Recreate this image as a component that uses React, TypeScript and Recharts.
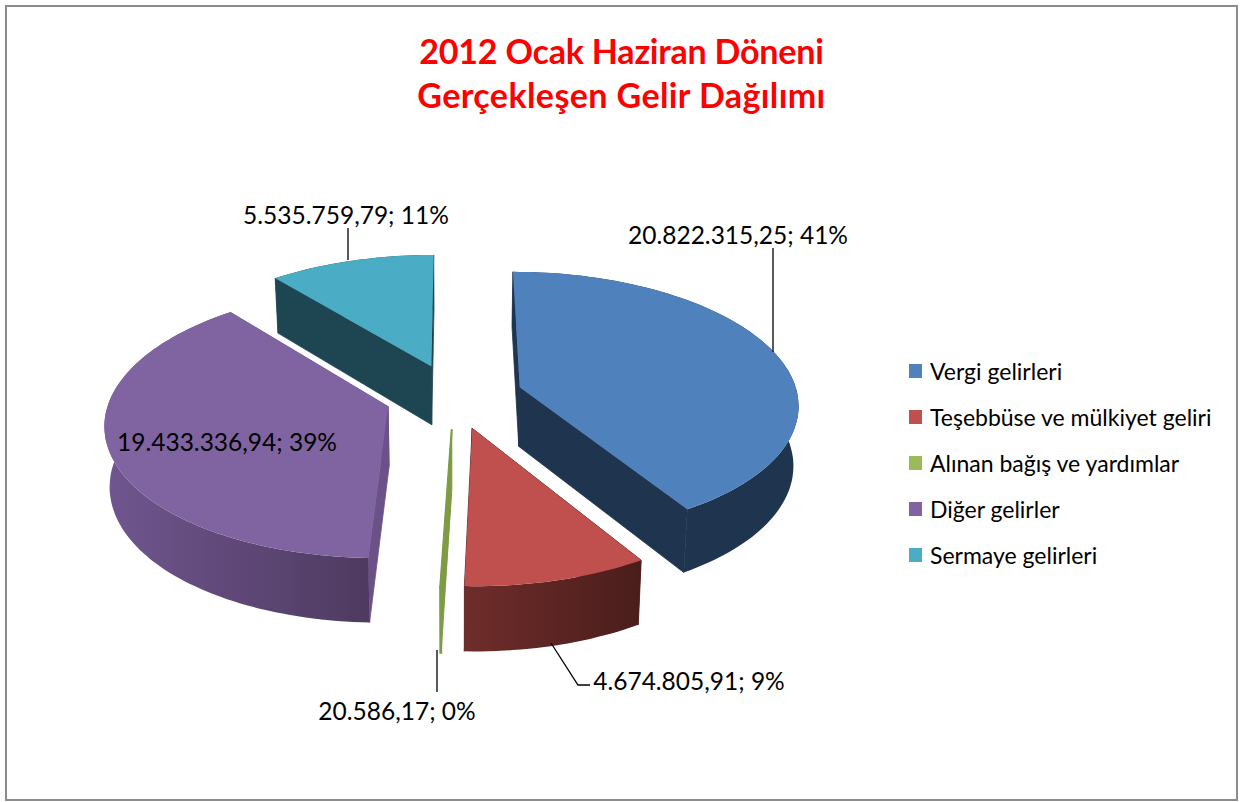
import React from 'react';
import { PieChart, Pie, Legend } from 'recharts';

const categories = ['Vergi gelirleri', 'Teşebbüse ve mülkiyet geliri', 'Alınan bağış ve yardımlar', 'Diğer gelirler', 'Sermaye gelirleri'];
const amounts = [20822315.25, 4674805.91, 20586.17, 19433336.94, 5535759.79];
const amountLabels = ['20.822.315,25', '4.674.805,91', '20.586,17', '19.433.336,94', '5.535.759,79'];
const percentLabels = ['41%', '9%', '0%', '39%', '11%'];

const topColors = ['#4F81BD', '#C0504D', '#9BBB59', '#8064A2', '#4BACC6'];
const wallFrom = ['#1F344F', '#6F2D2B', '#7E9B45', '#70568F', '#1E4552'];
const wallTo = ['#1F344F', '#4A1D1B', '#7E9B45', '#4E3A60', '#1E4552'];
const cutColors = ['#1F344F', '#4A1D1B', '#7E9B45', '#6A5188', '#1E4552'];

// label text position (x, y = text centre) and leader line, same order as categories
const labelSpots = [
  { x: 738, y: 234, line: '773,248 773,352' },
  { x: 689, y: 680, line: '551,643 578,685 590,685' },
  { x: 397, y: 710, line: '437,650 437,692' },
  { x: 227, y: 441, line: '' },
  { x: 346, y: 214, line: '348,228 348,260' },
];

const W = 1243;
const H = 802;
const CX = 454;
const CY = 396;
const R = 278;
const TILT = 131; // vertical size of the unit radius on screen
const PERSP = 0.118;
const EXPLODE = 0.248;
const FONT = 'Lato, "Open Sans", sans-serif';

const rad = (d: number) => (d * Math.PI) / 180;

// pie plane -> screen, v grows towards the viewer
function project(u: number, v: number, lower: boolean) {
  const s = 1 / (1 - PERSP * v);
  const x = CX + R * u * s;
  const y = CY + TILT * v * s;
  if (!lower) return [x, y];
  return [CX + (x - CX) * 0.985, y + 59.5 + 4.6 * v];
}

const toPath = (pts: number[][]) => 'M' + pts.map((p) => p[0].toFixed(1) + ' ' + p[1].toFixed(1)).join('L') + 'Z';

function Slice(props: any) {
  const i = props.index ?? categories.indexOf(props.name);
  // recharts angles are counter-clockwise from 3 o'clock
  const a0 = 90 - props.startAngle;
  const a1 = 90 - props.endAngle;
  const mid = (a0 + a1) / 2;
  const ox = EXPLODE * Math.sin(rad(mid));
  const oy = -EXPLODE * Math.cos(rad(mid));
  const n = Math.max(2, Math.ceil((a1 - a0) / 1.5));
  const rim = (lower: boolean) => {
    const pts = [];
    for (let k = 0; k <= n; k++) {
      const a = rad(a0 + ((a1 - a0) * k) / n);
      pts.push(project(ox + Math.sin(a), oy - Math.cos(a), lower));
    }
    return pts;
  };
  const up = rim(false);
  const down = rim(true);
  const apexUp = project(ox, oy, false);
  const apexDown = project(ox, oy, true);
  const thin = a1 - a0 < 1;
  const gradId = 'wall-' + i;
  return (
    <g>
      <defs>
        <linearGradient id={gradId} x1="0" y1="0" x2="1" y2="0">
          <stop offset="0" stopColor={wallFrom[i]} />
          <stop offset="1" stopColor={wallTo[i]} />
        </linearGradient>
      </defs>
      <path d={toPath([apexUp, up[0], down[0], apexDown])} fill={cutColors[i]} stroke={cutColors[i]} strokeWidth={0.8} />
      <path d={toPath([apexUp, up[n], down[n], apexDown])} fill={cutColors[i]} stroke={cutColors[i]} strokeWidth={0.8} />
      <path
        d={toPath([...up, ...[...down].reverse()])}
        fill={`url(#${gradId})`}
        stroke={thin ? wallFrom[i] : 'none'}
        strokeWidth={thin ? 2 : 0}
      />
      <path
        d={toPath([apexUp, ...up])}
        fill={topColors[i]}
        stroke={thin ? wallFrom[i] : 'none'}
        strokeWidth={thin ? 2 : 0}
      />
    </g>
  );
}

function SliceLabel(props: any) {
  const i = props.index;
  const spot = labelSpots[i];
  return (
    <g>
      {spot.line && <polyline points={spot.line} fill="none" stroke="#000" strokeWidth={1.3} />}
      <text x={spot.x} y={spot.y} textAnchor="middle" dominantBaseline="central" fontFamily={FONT} fontSize={24.5} fill="#000">
        {amountLabels[i] + '; ' + percentLabels[i]}
      </text>
    </g>
  );
}

function LegendBox({ payload }: any) {
  return (
    <div>
      {(payload || []).map((item: any) => (
        <div key={item.value} style={{ height: 46, display: 'flex', alignItems: 'center', fontFamily: FONT, fontSize: 23, color: '#000', whiteSpace: 'nowrap' }}>
          <span style={{ width: 13, height: 14, background: item.color, marginRight: 8, flex: 'none' }} />
          {item.value}
        </div>
      ))}
    </div>
  );
}

const rows = categories.map((name, i) => ({ name, value: amounts[i], fill: topColors[i] }));

export default function App() {
  return (
    <div style={{ position: 'absolute', left: 0, top: 0, width: W, height: H, background: '#fff', overflow: 'hidden' }}>
      <div style={{ position: 'absolute', left: 5, top: 5, width: 1233, height: 796, boxSizing: 'border-box', border: '2px solid #8c8c8c' }} />
      <div style={{ position: 'absolute', left: 5, width: 1233, top: 29, textAlign: 'center', fontFamily: FONT, fontWeight: 700, fontSize: 34, lineHeight: '44px', color: '#FF0000' }}>
        <span style={{ letterSpacing: -0.2 }}>2012 Ocak Haziran Döneni</span>
        <br />
        <span style={{ letterSpacing: 0.4 }}>Gerçekleşen Gelir Dağılımı</span>
      </div>
      <PieChart width={W} height={H} margin={{ top: 0, right: 0, bottom: 0, left: 0 }} style={{ position: 'absolute', left: 0, top: 0 }}>
        <Pie
          data={rows}
          dataKey="value"
          nameKey="name"
          cx={CX}
          cy={CY}
          outerRadius={R}
          startAngle={90}
          endAngle={-270}
          stroke="none"
          isAnimationActive={false}
          shape={Slice}
          label={SliceLabel}
          labelLine={false}
        />
        <Legend layout="vertical" align="right" verticalAlign="top" itemSorter={null} content={LegendBox} wrapperStyle={{ left: 909, top: 348, width: 330 }} />
      </PieChart>
    </div>
  );
}
